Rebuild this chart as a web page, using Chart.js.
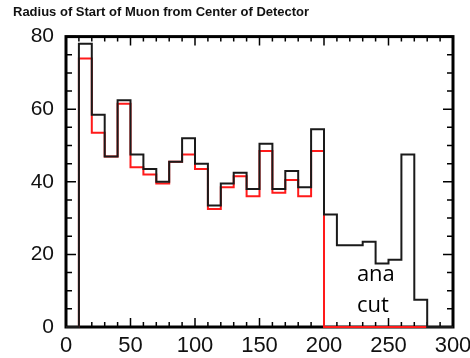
<!DOCTYPE html>
<html>
<head>
<meta charset="utf-8">
<script src="https://cdn.jsdelivr.net/npm/chart.js@4.4.1/dist/chart.umd.min.js"></script>
<style>
html,body{margin:0;padding:0;background:#fff;}
canvas{display:block;}
</style>
</head>
<body>
<canvas id="c" width="470" height="358"></canvas>
<script>
// Bin left edges (radius), width 10
const binEdges = [0,10,20,30,40,50,60,70,80,90,100,110,120,130,140,150,160,170,180,190,200,210,220,230,240,250,260,270,280,290];
const binUpper = 300;
// All muons (black)
const allCounts = [0,78,58.5,47,62.5,47.5,43.5,40,45.5,52,45,33.5,39.5,42.5,38,50.5,38,43,38.5,54.5,31,22.5,22.5,23.5,17.5,18.5,47.5,7.5,0,0];
// After analysis cut (red)
const cutCounts = [0,74,53.5,47,61.5,44,42,39.5,45.5,47.5,43.5,32.5,38.5,41.5,36,48.5,37,40.5,36,48.5,0,0,0,0,0,0,0,0,0,0];
const xTickLabels = [0,50,100,150,200,250,300];
const yTickLabels = [0,20,40,60,80];
const titleText = 'Radius of Start of Muon from Center of Detector';
const noteLines = ['ana','cut'];

function toSteps(vals){
  const pts = binEdges.map((x,i)=>({x:x, y:vals[i]}));
  pts.push({x:binUpper, y:vals[vals.length-1]});
  return pts;
}

const framePlugin = {
  id:'frame',
  beforeDatasetsDraw(chart){
    const {ctx, chartArea:a, scales:{x, y}} = chart;
    ctx.save();
    ctx.strokeStyle = '#000';
    ctx.lineWidth = 1.5;
    ctx.beginPath();
    for(let v=0; v<=300; v+=10){
      const px = x.getPixelForValue(v);
      const len = (v%50===0)?9:5;
      ctx.moveTo(px, a.top); ctx.lineTo(px, a.top+len);
      ctx.moveTo(px, a.bottom); ctx.lineTo(px, a.bottom-len);
    }
    for(let v=0; v<=80; v+=5){
      const py = y.getPixelForValue(v);
      const len = (v%20===0)?10:6;
      ctx.moveTo(a.left, py); ctx.lineTo(a.left+len, py);
      ctx.moveTo(a.right, py); ctx.lineTo(a.right-len, py);
    }
    ctx.stroke();
    ctx.lineWidth = 3;
    ctx.strokeRect(a.left, a.top, a.right-a.left, a.bottom-a.top);
    ctx.restore();
  },
  afterDatasetsDraw(chart){
    const {ctx, scales:{x, y}} = chart;
    ctx.save();
    ctx.fillStyle = '#000';
    ctx.font = '22px "Open Sans"';
    ctx.textBaseline = 'alphabetic';
    ctx.textAlign = 'left';
    const nx = x.getPixelForValue(225.5);
    ctx.fillText(noteLines[0], nx, y.getPixelForValue(12.8));
    ctx.fillText(noteLines[1], nx, y.getPixelForValue(4.1));
    ctx.restore();
  }
};

new Chart(document.getElementById('c'), {
  type:'line',
  data:{
    datasets:[
      {label:'all', data:toSteps(allCounts), stepped:true, borderColor:'#1a1a1a', borderWidth:2, pointRadius:0, fill:false, clip:false},
      {label:'ana cut', data:toSteps(cutCounts), stepped:true, borderColor:'#ff1a1a', borderWidth:2, pointRadius:0, fill:false, clip:false}
    ]
  },
  options:{
    responsive:false,
    animation:false,
    layout:{padding:{left:13,right:17,top:0,bottom:0}},
    plugins:{
      legend:{display:false},
      tooltip:{enabled:false},
      title:{display:true, text:titleText, align:'start', color:'#111',
        font:{family:'"Liberation Sans", Arial', size:13, weight:'bold'},
        padding:{top:5,bottom:16}}
    },
    scales:{
      x:{type:'linear', min:0, max:300,
        grid:{display:false}, border:{display:false},
        afterBuildTicks(s){ s.ticks = xTickLabels.map(v=>({value:v})); },
        ticks:{color:'#111', font:{family:'"Liberation Sans", Arial', size:22}, padding:-2, maxRotation:0, autoSkip:false},
        afterFit(s){ s.height = 31; s.paddingLeft = 0; s.paddingRight = 0; }
      },
      y:{min:0, max:80,
        grid:{display:false}, border:{display:false},
        afterBuildTicks(s){ s.ticks = yTickLabels.map(v=>({value:v})); },
        ticks:{color:'#111', font:{family:'"Liberation Sans", Arial', size:21}, padding:4},
        afterFit(s){ s.width = 53; s.paddingTop = 0; s.paddingBottom = 0; }
      }
    }
  },
  plugins:[framePlugin]
});
</script>
</body>
</html>
